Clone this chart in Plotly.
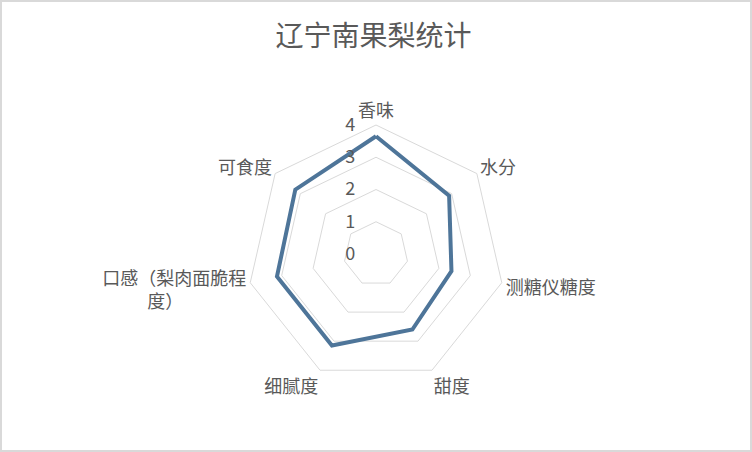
import plotly.graph_objects as go

categories = ["香味", "水分", "测糖仪糖度", "甜度", "细腻度", "口感（梨肉面脆程<br>度）　　　　", "可食度"]
values = [3.65, 2.9, 2.4, 2.6, 3.15, 3.15, 3.2]
radial_ticks = [0, 1, 2, 3, 4]
title_text = "辽宁南果梨统计"

W, H = 752, 452
cx, cy, R = 376, 254, 129

fig = go.Figure()
fig.add_trace(go.Scatterpolar(
    r=values + values[:1],
    theta=categories + categories[:1],
    mode="lines",
    line=dict(color="#4e7599", width=4),
    hoverinfo="skip",
    showlegend=False,
))

font_family = "Noto Sans CJK SC, Microsoft YaHei, sans-serif"
fig.update_layout(
    width=W, height=H,
    margin=dict(l=0, r=0, t=0, b=0),
    paper_bgcolor="white",
    plot_bgcolor="white",
    font=dict(family=font_family, color="#595959", size=18),
    title=dict(text=title_text, x=373.5 / W, y=1 - 36 / H, xanchor="center", yanchor="middle",
               font=dict(size=28, color="#595959", family=font_family)),
    polar=dict(
        domain=dict(x=[(cx - R) / W, (cx + R) / W], y=[1 - (cy + R) / H, 1 - (cy - R) / H]),
        bgcolor="white",
        gridshape="linear",
        angularaxis=dict(
            rotation=90, direction="clockwise",
            showline=True, linecolor="#d9d9d9", linewidth=1,
            showgrid=False, ticks="",
            tickfont=dict(size=18, color="#595959"),
        ),
        radialaxis=dict(
            range=[0, 4], tickvals=radial_ticks, ticktext=[str(v) for v in radial_ticks],
            showline=False, ticks="outside", ticklen=14, tickcolor="rgba(0,0,0,0)",
            angle=90, tickangle=90, side="counterclockwise",
            gridcolor="#d9d9d9", gridwidth=1,
            tickfont=dict(size=18, color="#595959"),
        ),
    ),
    shapes=[dict(type="rect", xref="paper", yref="paper", x0=0, y0=0, x1=1, y1=1,
                 line=dict(color="#d9d9d9", width=4), fillcolor="rgba(0,0,0,0)", layer="above")],
)

fig.write_html("out.html", config={"displayModeBar": False},
               post_script="document.body.style.margin='0';document.body.style.overflow='hidden';")
